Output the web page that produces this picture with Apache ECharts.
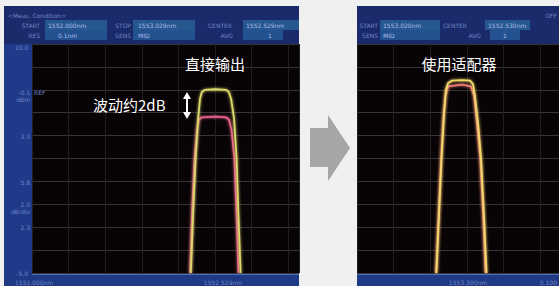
<!DOCTYPE html>
<html>
<head>
<meta charset="utf-8">
<script src="https://cdn.jsdelivr.net/npm/echarts@6/dist/echarts.min.js"></script>
<style>
html,body{margin:0;padding:0;background:#f0f0f0;}
#main{width:559px;height:286px;}
</style>
</head>
<body>
<div id="main"></div>
<script>
// wavelength (nm) / level (dB, 2 dB per division)
var leftYellowX = [1552.434,1552.440,1552.447,1552.454,1552.459,1552.464,1552.473,1552.500,1552.530,1552.538,1552.544,1552.552,1552.559,1552.564,1552.570];
var leftYellowY = [-20,-15,-10,-6.5,-4.8,-4.2,-4.0,-3.95,-4.0,-4.2,-4.8,-6.5,-10,-15,-20];
var leftPinkX = [1552.432,1552.437,1552.444,1552.451,1552.456,1552.464,1552.500,1552.530,1552.538,1552.545,1552.553,1552.559,1552.564];
var leftPinkY = [-20,-15,-10,-7.5,-6.6,-6.4,-6.35,-6.4,-6.6,-7.5,-10,-15,-20];
var rightYellowX = [1552.417,1552.424,1552.431,1552.438,1552.443,1552.449,1552.460,1552.487,1552.509,1552.517,1552.522,1552.531,1552.539,1552.547,1552.554];
var rightYellowY = [-20,-15,-10,-6,-4,-3.4,-3.2,-3.15,-3.2,-3.5,-4.5,-7,-10,-15,-20];
var rightPinkX = [1552.416,1552.423,1552.430,1552.436,1552.442,1552.449,1552.487,1552.511,1552.520,1552.528,1552.537,1552.545,1552.551];
var rightPinkY = [-20,-15,-10,-6.5,-4.5,-3.7,-3.55,-3.7,-4.5,-7,-10,-15,-20];

var leftYLabels = ['10.0','-0.1','3.3','5.8','2.0','2.3','-5.0'];
var leftXLabels = ['1552.000nm','1552.529nm'];
var rightXLabels = ['1553.300nm','0.100'];

function zip(xs, ys){
    var out = [];
    for(var i = 0; i < xs.length; i++){
        out.push([xs[i], ys[i]]);
    }
    return out;
}

var chart = echarts.init(document.getElementById('main'), null, {renderer:'svg'});

var small = '6px "DejaVu Sans"';
var labelColor = '#6f86c4';
var valueColor = '#a9bce8';
var cjk = '15px "Noto Sans CJK SC"';

function rect(x, y, w, h, fill, z){
    return {type:'rect', shape:{x:x, y:y, width:w, height:h}, style:{fill:fill}, z:z || 0, silent:true};
}
function txt(x, y, s, color, font, align){
    return {type:'text', x:x, y:y, z:10, silent:true,
        style:{text:s, fill:color, font:font || small, textAlign:align || 'left', textVerticalAlign:'middle'}};
}

var els = [
    // left screen frame
    rect(4, 6, 295, 280, '#1b2a6b'),
    rect(4, 44, 28, 229, '#203a8a'),
    rect(45, 20, 62, 10, '#27578f'),
    rect(133, 20, 62, 10, '#27578f'),
    rect(243, 20, 56, 10, '#27578f'),
    rect(45, 30, 62, 10, '#245290'),
    rect(133, 30, 62, 10, '#245290'),
    rect(243, 30, 40, 10, '#245290'),
    rect(32, 44, 267, 229, '#080305'),
    rect(4, 273, 295, 13, '#1f3985'),
    rect(32, 273, 267, 2, '#4f6fc0', 1),
    // right screen frame
    rect(357, 6, 202, 280, '#1b2a6b'),
    rect(380, 20, 60, 10, '#27578f'),
    rect(485, 20, 45, 10, '#27578f'),
    rect(380, 30, 60, 10, '#245290'),
    rect(490, 30, 30, 10, '#245290'),
    rect(357, 44, 202, 229, '#080305'),
    rect(357, 273, 202, 13, '#1f3985'),
    rect(357, 273, 202, 2, '#4f6fc0', 1),

    // left header text
    txt(8, 15, '<Meas. Condition>', labelColor),
    txt(40, 25, 'START', labelColor, small, 'right'),
    txt(48, 25, '1552.000nm', valueColor),
    txt(131, 25, 'STOP', labelColor, small, 'right'),
    txt(138, 25, '1553.029nm', valueColor),
    txt(232, 25, 'CENTER', labelColor, small, 'right'),
    txt(246, 25, '1552.529nm', valueColor),
    txt(40, 35, 'RES', labelColor, small, 'right'),
    txt(58, 35, '0.1nm', valueColor),
    txt(131, 35, 'SENS', labelColor, small, 'right'),
    txt(138, 35, 'MID', valueColor),
    txt(233, 35, 'AVG', labelColor, small, 'right'),
    txt(268, 35, '1', valueColor),

    // left y labels
    txt(28, 47, leftYLabels[0], labelColor, small, 'right'),
    txt(30, 92, leftYLabels[1], labelColor, small, 'right'),
    txt(34, 92, 'REF', labelColor),
    txt(30, 99, 'dBm', labelColor, small, 'right'),
    txt(30, 136, leftYLabels[2], labelColor, small, 'right'),
    txt(30, 182, leftYLabels[3], labelColor, small, 'right'),
    txt(30, 204, leftYLabels[4], labelColor, small, 'right'),
    txt(30, 211, 'dB/div', labelColor, small, 'right'),
    txt(30, 227, leftYLabels[5], labelColor, small, 'right'),
    txt(28, 273, leftYLabels[6], labelColor, small, 'right'),
    txt(15, 282, leftXLabels[0], labelColor),
    txt(223, 282, leftXLabels[1], labelColor, small, 'center'),

    // right header text
    txt(557, 15, 'OFF', labelColor, small, 'right'),
    txt(378, 25, 'START', labelColor, small, 'right'),
    txt(383, 25, '1553.020nm', valueColor),
    txt(467, 25, 'CENTER', labelColor, small, 'right'),
    txt(488, 25, '1552.530nm', valueColor),
    txt(378, 35, 'SENS', labelColor, small, 'right'),
    txt(383, 35, 'MID', valueColor),
    txt(481, 35, 'AVG', labelColor, small, 'right'),
    txt(503, 35, '1', valueColor),
    txt(468, 282, rightXLabels[0], labelColor, small, 'center'),
    txt(557, 282, rightXLabels[1], labelColor, small, 'right'),

    // annotations
    txt(215, 63, '直接输出', '#ffffff', cjk, 'center'),
    txt(93, 104, '波动约2dB', '#ffffff', cjk),
    txt(459, 63, '使用适配器', '#ffffff', cjk, 'center'),
    {type:'line', z:10, silent:true, shape:{x1:187, y1:97, x2:187, y2:114}, style:{stroke:'#ffffff', lineWidth:2}},
    {type:'polygon', z:10, silent:true, shape:{points:[[183,99],[191,99],[187,92]]}, style:{fill:'#ffffff'}},
    {type:'polygon', z:10, silent:true, shape:{points:[[183,112],[191,112],[187,119]]}, style:{fill:'#ffffff'}},

    // gray arrow between screens
    {type:'polygon', z:10, silent:true,
        shape:{points:[[310,128],[328,128],[328,115],[350,148],[328,181],[328,167],[310,167]]},
        style:{fill:'#a6a6a6'}}
];

function xAx(idx, min, max){
    return {gridIndex:idx, type:'value', min:min, max:max, interval:0.1, z:3,
        axisLine:{show:false}, axisTick:{show:false}, axisLabel:{show:false},
        splitLine:{show:true, lineStyle:{color:'#1f1f1f', width:1}}};
}
function yAx(idx){
    return {gridIndex:idx, type:'value', min:-20, max:0, interval:2, z:3,
        axisLine:{show:false}, axisTick:{show:false}, axisLabel:{show:false},
        splitLine:{show:true, lineStyle:{color:'#353535', width:1}}};
}
function trace(idx, xs, ys, color){
    return {type:'line', xAxisIndex:idx, yAxisIndex:idx, z:4, symbol:'none',
        data:zip(xs, ys),
        lineStyle:{color:color, width:1.8, shadowBlur:3, shadowColor:color}};
}

var option = {
    backgroundColor:'#f0f0f0',
    animation:false,
    grid:[
        {left:32, top:44, width:267, height:229},
        {left:357, top:44, width:202, height:229}
    ],
    xAxis:[xAx(0, 1552.0, 1552.7295), xAx(1, 1552.2, 1552.752)],
    yAxis:[yAx(0), yAx(1)],
    series:[
        trace(0, leftPinkX, leftPinkY, '#e8628a'),
        trace(0, leftYellowX, leftYellowY, '#dcd86a'),
        trace(1, rightPinkX, rightPinkY, '#ee7a78'),
        trace(1, rightYellowX, rightYellowY, '#f2d86a')
    ],
    graphic:{elements:els}
};
chart.setOption(option);
</script>
</body>
</html>
